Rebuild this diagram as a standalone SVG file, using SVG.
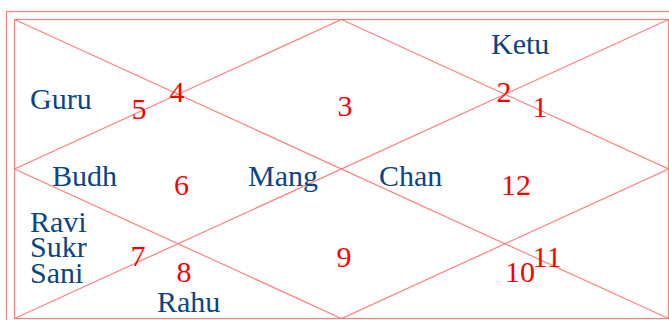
<svg xmlns="http://www.w3.org/2000/svg" width="669" height="320" viewBox="0 0 669 320">
<style>
.ln{fill:none;stroke:#ff7f7f;stroke-width:1.2}
.pl{font-family:'Liberation Serif','Times New Roman',Times,serif;font-size:30px;fill:#0c4583}
.nm{font-family:'Liberation Serif','Times New Roman',Times,serif;font-size:30px;fill:#ff0000;text-anchor:middle}
</style>
<rect width="669" height="320" fill="#ffffff"/>
<g id="connectors">
<rect class="ln" x="6.5" y="11.5" width="680" height="330"/>
<rect class="ln" x="14.5" y="19.5" width="654" height="299"/>
<line class="ln" x1="14.5" y1="19.5" x2="668.5" y2="318.5"/>
<line class="ln" x1="668.5" y1="19.5" x2="14.5" y2="318.5"/>
<polygon class="ln" points="341.5,19.5 668.5,169 341.5,318.5 14.5,169"/>
</g>
<g id="house1"><text class="nm" x="540" y="117">1</text></g>
<g id="house2"><text class="pl" x="491" y="54">Ketu</text><text class="nm" x="504" y="102">2</text></g>
<g id="house3"><text class="nm" x="345" y="116">3</text></g>
<g id="house4"><text class="nm" x="177" y="102">4</text></g>
<g id="house5"><text class="pl" x="30" y="109">Guru</text><text class="nm" x="139" y="119">5</text></g>
<g id="house6"><text class="pl" x="52" y="186">Budh</text><text class="nm" x="181.5" y="195">6</text></g>
<g id="house7"><text class="pl" x="30" y="232">Ravi</text><text class="pl" x="30" y="257">Sukr</text><text class="pl" x="30" y="283">Sani</text><text class="nm" x="138" y="266">7</text></g>
<g id="house8"><text class="pl" x="157" y="312">Rahu</text><text class="nm" x="184" y="282">8</text></g>
<g id="house9"><text class="pl" x="248" y="186">Mang</text><text class="nm" x="344" y="267">9</text></g>
<g id="house10"><text class="nm" x="520" y="282">10</text></g>
<g id="house11"><text class="nm" x="547" y="267">11</text></g>
<g id="house12"><text class="pl" x="379" y="186">Chan</text><text class="nm" x="516" y="195">12</text></g>
</svg>
